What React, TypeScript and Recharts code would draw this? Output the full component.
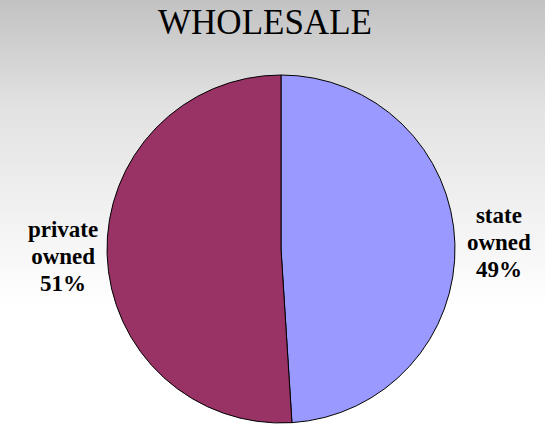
import React from "react";
import { PieChart, Pie, Cell } from "recharts";

const categories = ["state owned", "private owned"];
const shares = [49, 51];
const colors = ["#9999FF", "#993366"];
const title = "WHOLESALE";

const data = categories.map((name, i) => ({ name, value: shares[i] }));

const RAD = Math.PI / 180;

const renderLabel = (props: any) => {
  const { cx, cy, midAngle, outerRadius, name, value } = props;
  const r = outerRadius + 44;
  const x = cx + r * Math.cos(-midAngle * RAD);
  const y = cy + r * Math.sin(-midAngle * RAD);
  const words = String(name).split(" ");
  const lines = [...words, `${value}%`];
  const lh = 27;
  const startY = y - ((lines.length - 1) * lh) / 2 + 8;
  return (
    <text
      x={x}
      y={startY}
      textAnchor="middle"
      fontFamily="'Liberation Serif', 'Times New Roman', serif"
      fontWeight="bold"
      fontSize={23}
      fill="#000"
    >
      {lines.map((l, i) => (
        <tspan key={i} x={x} dy={i === 0 ? 0 : lh}>
          {l}
        </tspan>
      ))}
    </text>
  );
};

export default function App() {
  return (
    <div
      style={{
        position: "absolute",
        left: 0,
        top: 0,
        width: 545,
        height: 427,
        background: "linear-gradient(to bottom, #c2c2c2 0%, #e2e2e2 25%, #ffffff 72%, #ffffff 100%)",
        overflow: "hidden",
      }}
    >
      <div
        style={{
          position: "absolute",
          left: 0,
          width: 530,
          top: 3,
          textAlign: "center",
          fontFamily: "'Liberation Serif', 'Times New Roman', serif",
          fontSize: 35,
          lineHeight: "40px",
          color: "#000",
        }}
      >
        {title}
      </div>
      <PieChart
        width={545}
        height={427}
        margin={{ top: 0, right: 0, bottom: 0, left: 0 }}
        style={{ position: "absolute", left: 0, top: 0 }}
      >
        <Pie
          data={data}
          dataKey="value"
          nameKey="name"
          cx={281}
          cy={249}
          outerRadius={174}
          startAngle={90}
          endAngle={-270}
          stroke="#000"
          strokeWidth={1}
          label={renderLabel}
          labelLine={false}
          isAnimationActive={false}
        >
          {data.map((d, i) => (
            <Cell key={d.name} fill={colors[i]} />
          ))}
        </Pie>
      </PieChart>
    </div>
  );
}
